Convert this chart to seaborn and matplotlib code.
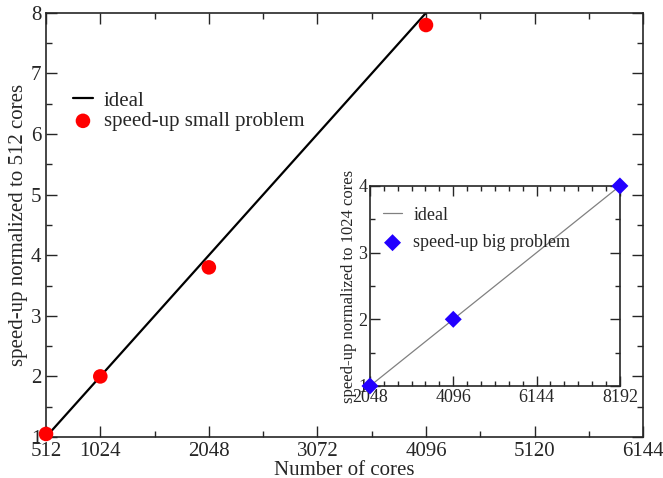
import matplotlib
matplotlib.use("Agg")
import matplotlib.pyplot as plt
import seaborn as sns
import pandas as pd
from matplotlib.ticker import MultipleLocator, FixedLocator

# data
ideal_cores = [512, 4096]
ideal_speed = [1, 8]
small_cores = [512, 1024, 2048, 4096]
small_speed = [1.05, 2.0, 3.8, 7.8]

big_ideal_cores = [2048, 8192]
big_ideal_speed = [1, 4]
big_cores = [2048, 4096, 8192]
big_speed = [1.0, 2.0, 4.0]

main_xticks = [512, 1024, 2048, 3072, 4096, 5120, 6144]
inset_xticks = [2048, 4096, 6144, 8192]

sns.set_style("ticks")
plt.rcParams['font.family'] = ['Liberation Serif', 'DejaVu Serif']
plt.rcParams['xtick.direction'] = 'in'
plt.rcParams['ytick.direction'] = 'in'

fig = plt.figure(figsize=(6.63, 4.78), dpi=100)
ax = fig.add_axes([0.0694, 0.0858, 0.9006, 0.8872])

sns.lineplot(x=ideal_cores, y=ideal_speed, ax=ax, color='black', lw=1.6, label='ideal')
sns.scatterplot(x=small_cores, y=small_speed, ax=ax, color='#ff0000', s=110, edgecolor='none',
                label='speed-up small problem', zorder=5, clip_on=False)
ax.set_xlim(512, 6144)
ax.set_ylim(1, 8)
ax.set_xticks(main_xticks)
ax.set_xticklabels([str(v) for v in main_xticks])
ax.xaxis.set_minor_locator(FixedLocator([1536, 2560, 3584, 4608, 5632]))
ax.yaxis.set_major_locator(MultipleLocator(1))
ax.yaxis.set_minor_locator(MultipleLocator(0.5))
ax.tick_params(which='both', top=True, right=True, labelsize=15)
ax.tick_params(which='major', length=8, width=1)
ax.tick_params(which='minor', length=4, width=1)
ax.set_xlabel('Number of cores', fontsize=15, labelpad=0)
ax.set_ylabel('speed-up normalized to 512 cores', fontsize=15, labelpad=2)
for s in ax.spines.values():
    s.set_linewidth(1.2)
leg = ax.legend(loc='upper left', bbox_to_anchor=(0.02, 0.85), frameon=False, fontsize=15,
                handlelength=1.0, handletextpad=0.5, labelspacing=0.05, borderpad=0.2)

ins = fig.add_axes([0.558, 0.1925, 0.377, 0.4185])
sns.lineplot(x=big_ideal_cores, y=big_ideal_speed, ax=ins, color='#808080', lw=0.9, label='ideal')
sns.scatterplot(x=big_cores, y=big_speed, ax=ins, color='#2200ff', marker='D', s=75, edgecolor='none',
                label='speed-up big problem', zorder=5, clip_on=False)
ins.set_xlim(2048, 8192)
ins.set_ylim(1, 4)
ins.set_xticks(inset_xticks)
ins.set_xticklabels([str(v) for v in inset_xticks])
ins.xaxis.set_minor_locator(MultipleLocator(2048 / 6))
ins.yaxis.set_major_locator(MultipleLocator(1))
ins.yaxis.set_minor_locator(MultipleLocator(0.5))
ins.tick_params(which='both', top=True, right=True, labelsize=13, pad=2)
ins.tick_params(which='major', length=7, width=1)
ins.tick_params(which='minor', length=3.5, width=1)
ins.set_xlabel('')
ins.set_ylabel('speed-up normalized to 1024 cores', fontsize=12, labelpad=1)
for s in ins.spines.values():
    s.set_linewidth(1.2)
ins.legend(loc='upper left', bbox_to_anchor=(0.0, 0.96), frameon=False, fontsize=13,
           handlelength=1.1, handletextpad=0.6, labelspacing=0.6, borderpad=0.2)

fig.savefig('out.png', dpi=100)
